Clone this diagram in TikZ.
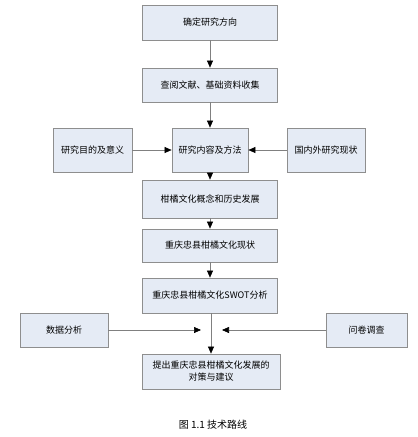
\documentclass[tikz,border=0pt]{standalone}
\usepackage{fontspec}
\setmainfont{Liberation Serif}
\newfontfamily\cjk{Noto Sans CJK SC}
\usetikzlibrary{arrows.meta}
\definecolor{boxfill}{HTML}{E5EBF5}
\definecolor{boxline}{HTML}{8E8E8E}
\definecolor{conline}{HTML}{808080}
\begin{document}
\begin{tikzpicture}[x=1pt,y=-1pt,
  stepbox/.style={draw=boxline,fill=boxfill,line width=0.8pt,rectangle,inner sep=2pt,
    font=\cjk\fontsize{9}{12}\selectfont,align=center},
  conn/.style={draw=conline,line width=0.6pt,-{Triangle[width=6pt,length=7pt]},
    arrows={[color=black]}}
]
\useasboundingbox (0,0) rectangle (418,437);
\fill[white] (0,0) rectangle (418,437);
\node[stepbox,minimum width=135pt,minimum height=35pt] (b1) at (210,22.5) {确定研究方向};
\node[stepbox,minimum width=135pt,minimum height=34pt] (b2) at (210,85) {查阅文献、基础资料收集};
\node[stepbox,minimum width=76pt,minimum height=44pt] (b3) at (210,150) {研究内容及方法};
\node[stepbox,minimum width=79pt,minimum height=44pt] (bl) at (92.5,150) {研究目的及意义};
\node[stepbox,minimum width=78pt,minimum height=44pt] (br) at (326,150) {国内外研究现状};
\node[stepbox,minimum width=135pt,minimum height=38pt] (b4) at (210,199) {柑橘文化概念和历史发展};
\node[stepbox,minimum width=135pt,minimum height=33pt] (b5) at (210,245.5) {重庆忠县柑橘文化现状};
\node[stepbox,minimum width=135pt,minimum height=35pt] (b6) at (210,295.5) {重庆忠县柑橘文化SWOT分析};
\node[stepbox,minimum width=88pt,minimum height=34pt] (dl) at (64,330) {数据分析};
\node[stepbox,minimum width=81pt,minimum height=34pt] (dr) at (366.5,330) {问卷调查};
\node[stepbox,minimum width=138pt,minimum height=35pt] (b7) at (211,371.5) {提出重庆忠县柑橘文化发展的\\对策与建议};
\coordinate (cl) at (201,330);
\coordinate (cr) at (222,330);
\draw[conn] (b1) -- (b2);
\draw[conn] (b2) -- (b3);
\draw[conn] (bl) -- (b3);
\draw[conn] (br) -- (b3);
\draw[conn] (b3) -- (b4);
\draw[conn] (b4) -- (b5);
\draw[conn] (b5) -- (b6);
\draw[conn] (b6.south -| b7.north) -- (b7.north);
\draw[conn] (dl) -- (cl);
\draw[conn] (dr) -- (cr);
\node[font=\cjk\fontsize{10}{12}\selectfont] (cap) at (213,425) {图 1.1 技术路线};
\end{tikzpicture}
\end{document}
